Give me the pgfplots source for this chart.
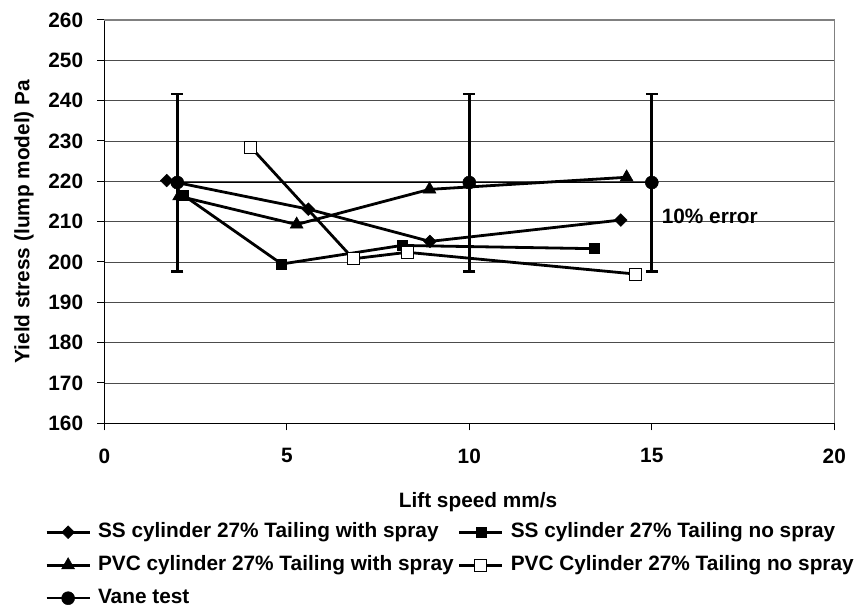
\documentclass[border=0pt]{standalone}
\usepackage{fontspec}
\setmainfont{Liberation Sans}
\usepackage{pgfplots}
\pgfplotsset{compat=1.18}
\newcommand\F{\fontsize{20.8bp}{25bp}\selectfont\bfseries}
\newcommand\LB[1]{\makebox[357bp][l]{#1}}
\begin{document}
\begin{tikzpicture}
\path[use as bounding box] (0bp,0bp) rectangle (857bp,608bp);
\begin{axis}[
  at={(104.3bp,184.7bp)}, anchor=south west,
  scale only axis, width=730bp, height=403.3bp,
  xmin=0, xmax=20, ymin=160, ymax=260,
  xtick={0,5,10,15,20}, ytick={160,170,180,190,200,210,220,230,240,250,260},
  ymajorgrids, major grid style={draw=black!70, line width=0.9bp},
  axis line style={draw=none},
  tick align=outside, tick pos=left,
  major tick length=7bp,
  tick style={black, line width=1bp},
  /pgf/number format/assume math mode=true,
  ticklabel style={font=\F},
  xticklabel style={anchor=north, inner sep=0pt, yshift=-18bp},
  yticklabel style={anchor=east, inner sep=0pt, xshift=-14bp},
  xlabel={Lift speed mm/s}, ylabel={Yield stress (lump model) Pa},
  label style={font=\F},
  xlabel style={at={(axis description cs:0.512,-0.196)}, anchor=center, inner sep=0pt},
  ylabel style={at={(axis description cs:-0.11,0.5)}, anchor=center, inner sep=0pt},
  clip=false,
  legend columns=2,
  legend style={at={(axis description cs:-0.0812,-0.246)}, anchor=north west, draw=none, fill=none,
    font=\F, inner sep=0pt, row sep=14bp,
    nodes={inner sep=0pt, text height=15bp, text depth=4bp},
    /tikz/every odd column/.append style={column sep=7bp},
    /tikz/every even column/.append style={column sep=3bp}},
  legend cell align=left,
  legend image code/.code={\draw[mark repeat=2,mark phase=2] plot coordinates {(0bp,0bp) (21.5bp,0bp) (43bp,0bp)};},
]
\addplot[black, line width=2.8bp, mark=square*, mark size=4.5bp, mark options={rotate=45, fill=black, line width=0.5bp}]
  coordinates {(1.71,220.2) (5.59,213.1) (8.92,205.1) (14.15,210.4)};
\addlegendentry{\LB{SS cylinder 27\% Tailing with spray}}
\addplot[black, line width=2.8bp, mark=square*, mark size=5bp, mark options={fill=black, line width=0.5bp}]
  coordinates {(2.16,216.6) (4.86,199.5) (8.15,204.1) (13.42,203.3)};
\addlegendentry{SS cylinder 27\% Tailing no spray}
\addplot[black, line width=2.8bp, mark=triangle*, mark size=7.5bp, mark options={fill=black, line width=0.5bp}]
  coordinates {(2.05,216.3) (5.27,209.3) (8.91,218.0) (14.31,221.0)};
\addlegendentry{\LB{PVC cylinder 27\% Tailing with spray}}
\addplot[black, line width=2.8bp, mark=square*, mark size=6bp, mark options={fill=white, draw=black, line width=1bp}]
  coordinates {(4.01,228.5) (6.82,200.8) (8.30,202.4) (14.56,197.0)};
\addlegendentry{PVC Cylinder 27\% Tailing no spray}
\addplot[black, line width=1.5bp, mark=*, mark size=6.5bp, mark options={fill=black, line width=0.5bp},
  error bars/.cd, y dir=both, y explicit,
  error bar style={line width=2.8bp, black},
  error mark options={black, line width=2.5bp, mark size=6bp, rotate=90}]
  coordinates {(2,219.7) +- (0,22) (10,219.7) +- (0,22) (15,219.7) +- (0,22)};
\addlegendentry{\LB{Vane test}}
\node[anchor=west, font=\F, inner sep=0pt] at (axis cs:15.27,211.25) {10\% error};
\draw[black, line width=1.3bp] (rel axis cs:0,1) -- (rel axis cs:0,0) -- (rel axis cs:1,0);
\draw[gray, line width=1.2bp] (rel axis cs:1,0) -- (rel axis cs:1,1) -- (rel axis cs:0,1);
\end{axis}
\end{tikzpicture}
\end{document}
